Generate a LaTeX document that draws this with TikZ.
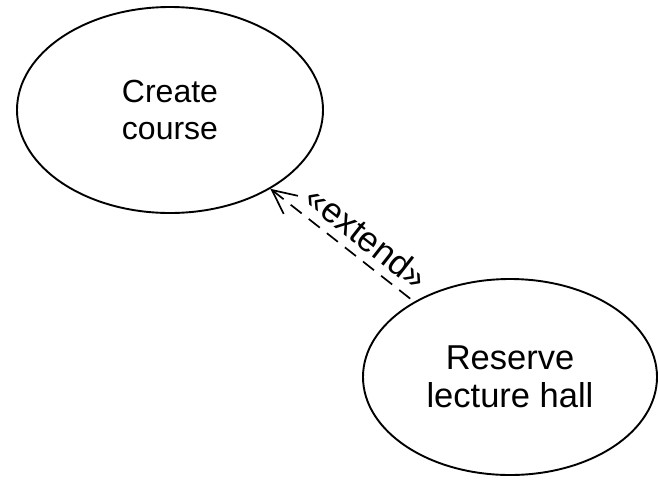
\documentclass[tikz,border=0pt]{standalone}
\usepackage{fontspec}
\setmainfont{Liberation Sans}
\usetikzlibrary{shapes.geometric,arrows.meta}

\tikzset{
  usecase/.style={ellipse, draw=black, line width=1.9pt, inner sep=0pt,
    align=center},
  extendline/.style={line width=1.7pt, dash pattern=on 14pt off 9pt,
    {Straight Barb[length=24pt,width=23pt,line width=1.7pt]}-},
  stereo/.style={font=\fontsize{35}{40}\selectfont, inner sep=0pt}
}

\begin{document}
\begin{tikzpicture}[x=1pt,y=-1pt]
  \useasboundingbox (0,0) rectangle (658,480);

  % use cases
  \node[usecase, minimum width=306pt, minimum height=206pt,
        font=\fontsize{32}{37}\selectfont] (cc) at (170,110)
    {Create\\course};
  \node[usecase, minimum width=294pt, minimum height=196pt,
        font=\fontsize{34.5}{38.5}\selectfont] (rl) at (510,377)
    {Reserve\\lecture hall};

  % extend relationship
  \draw[extendline] (cc) -- node[stereo, sloped, pos=0.58, above=8pt] (lbl) {«extend»} (rl);
\end{tikzpicture}
\end{document}
